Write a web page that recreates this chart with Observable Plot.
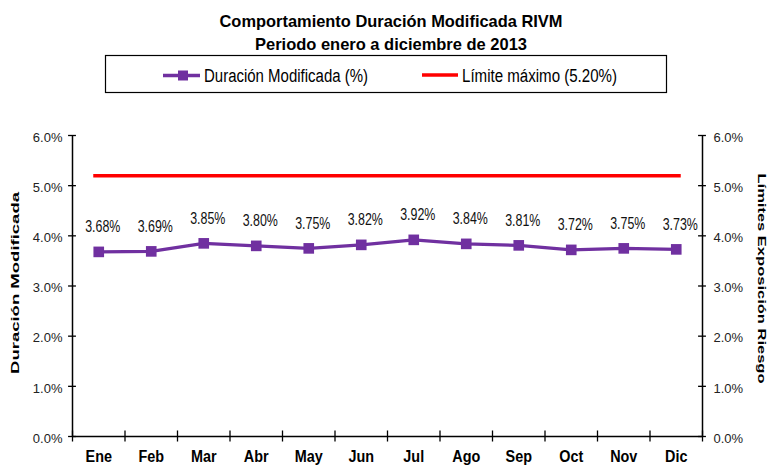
<!DOCTYPE html>
<html><head><meta charset="utf-8">
<script src="https://cdn.jsdelivr.net/npm/d3@7"></script>
<script src="https://cdn.jsdelivr.net/npm/@observablehq/plot@0.6"></script>
<style>
body{margin:0;background:#fff;}
svg{display:block;}
</style></head><body>
<div id="head"></div>
<div id="chart"></div>
<script>
const titleLines = ["Comportamiento Duración Modificada RIVM","Periodo enero a diciembre de 2013"];
const legendLabels = ["Duración Modificada (%)","Límite máximo (5.20%)"];
const months = ["Ene","Feb","Mar","Abr","May","Jun","Jul","Ago","Sep","Oct","Nov","Dic"];
const duracion = [3.68,3.69,3.85,3.80,3.75,3.82,3.92,3.84,3.81,3.72,3.75,3.73];
const limite = 5.20;
const yTicks = [0,1,2,3,4,5,6];
const yTitleLeft = "Duración Modificada";
const yTitleRight = "Límites Exposición Riesgo";

const font = '"Liberation Sans",Arial,sans-serif';
const purple = "#7030A0", red = "#FF0000";

// ---- header: title + legend ----
const head = d3.select("#head").append("svg").attr("width",770).attr("height",100)
  .style("font-family", font);
const tl = [{y:27, len:343},{y:50, len:272}];
titleLines.forEach((t,i)=>{
  head.append("text").attr("x",391).attr("y",tl[i].y).attr("text-anchor","middle")
    .attr("font-size",17).attr("font-weight","bold").attr("textLength",tl[i].len)
    .attr("lengthAdjust","spacingAndGlyphs").text(t);
});
head.append("rect").attr("x",105.5).attr("y",55.5).attr("width",561).attr("height",37)
  .attr("fill","none").attr("stroke","#000").attr("stroke-width",1.2);
head.append("line").attr("x1",163).attr("x2",200).attr("y1",75.5).attr("y2",75.5)
  .attr("stroke",purple).attr("stroke-width",3.3);
head.append("rect").attr("x",178).attr("y",70.5).attr("width",10).attr("height",10).attr("fill",purple);
head.append("line").attr("x1",422).attr("x2",458).attr("y1",75).attr("y2",75)
  .attr("stroke",red).attr("stroke-width",3.5);
const lx = [{x:204,len:164},{x:462,len:155}];
legendLabels.forEach((t,i)=>{
  head.append("text").attr("x",lx[i].x).attr("y",82).attr("font-size",18)
    .attr("textLength",lx[i].len).attr("lengthAdjust","spacingAndGlyphs").text(t);
});

// ---- chart ----
const data = months.map((m,i)=>({m, x:i+0.5, v:duracion[i], lim:limite}));
const bounds = d3.range(0, months.length+1);
const n = months.length;

const plot = Plot.plot({
  width:770, height:366,
  marginTop:35, marginBottom:30, marginLeft:72, marginRight:68,
  style:{fontFamily:font, fontSize:"13px", color:"#000", background:"#fff"},
  x:{type:"linear", domain:[0,n], axis:null},
  y:{domain:[0,6], axis:null},
  marks:[
    Plot.ruleX([0], {y1:0, y2:6, stroke:"#000", strokeWidth:1.5}),
    Plot.ruleX([n], {y1:0, y2:6, stroke:"#000", strokeWidth:1.5}),
    Plot.ruleY([0], {x1:0, x2:n, stroke:"#000", strokeWidth:1.5}),
    Plot.ruleY(yTicks, {x1:-0.075, x2:0.075, stroke:"#000", strokeWidth:1.3}),
    Plot.ruleY(yTicks, {x1:n-0.075, x2:n+0.075, stroke:"#000", strokeWidth:1.3}),
    Plot.ruleX(bounds, {y1:-0.11, y2:0.11, stroke:"#000", strokeWidth:1.3}),
    Plot.text(yTicks, {x:0, y:d=>d, text:d=>d.toFixed(1)+"%", textAnchor:"end", dx:-10, dy:2, fontSize:13, fill:"#222"}),
    Plot.text(yTicks, {x:n, y:d=>d, text:d=>d.toFixed(1)+"%", textAnchor:"start", dx:11, dy:2, fontSize:13, fill:"#222"}),
    Plot.text(data, {x:"x", y:0, text:"m", dy:20.5, fontWeight:"bold", fontSize:16, className:"cond90"}),
    Plot.ruleY([limite], {x1:data[0].x, x2:data[n-1].x, stroke:red, strokeWidth:3.5, insetLeft:-5, insetRight:-5}),
    Plot.line(data, {x:"x", y:"v", stroke:purple, strokeWidth:3.3}),
    Plot.dot(data, {x:"x", y:"v", symbol:"square", r:6, fill:purple, stroke:"none"}),
    Plot.text(data, {x:"x", y:"v", text:d=>d.v.toFixed(2)+"%", dx:4, dy:-25, fontSize:17, fill:"#111", className:"cond73"}),
    Plot.text([yTitleLeft], {x:0, y:3, text:d=>d, rotate:-90, dx:-57, dy:-3, fontWeight:"bold", fontSize:16, className:"spanL"}),
    Plot.text([yTitleRight], {x:n, y:3, text:d=>d, rotate:90, dx:59, dy:-7.5, fontWeight:"bold", fontSize:16, className:"spanR"})
  ]
});
document.getElementById("chart").appendChild(plot);

function condense(cls, scale){
  plot.querySelectorAll("."+cls+" text").forEach(t=>{
    const w = t.getComputedTextLength();
    t.setAttribute("textLength", (w*scale).toFixed(1));
    t.setAttribute("lengthAdjust","spacingAndGlyphs");
  });
}
function spanTo(cls, len, squash){
  plot.querySelectorAll("."+cls+" text").forEach(t=>{
    t.setAttribute("textLength", len);
    t.setAttribute("lengthAdjust","spacingAndGlyphs");
    const tr = t.getAttribute("transform") || "";
    t.setAttribute("transform", tr + ` scale(1,${squash})`);
  });
}
condense("cond90", 0.9);
condense("cond73", 0.73);
spanTo("spanL", 182, 0.72);
spanTo("spanR", 210, 0.72);
</script>
</body></html>
